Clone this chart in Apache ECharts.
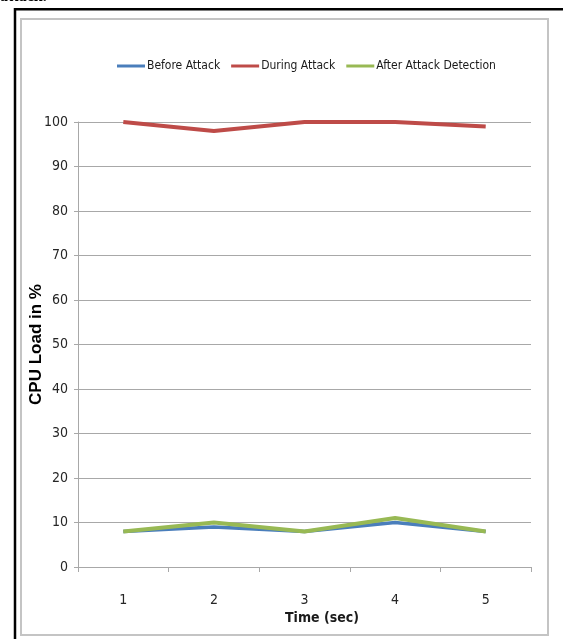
<!DOCTYPE html>
<html>
<head>
<meta charset="utf-8">
<script src="https://cdn.jsdelivr.net/npm/echarts@6/dist/echarts.min.js"></script>
<style>
  html, body { margin: 0; padding: 0; background: #fff; }
  #chart { width: 563px; height: 639px; }
</style>
</head>
<body>
<div id="chart"></div>
<script>
// CPU load over time, before / during / after an attack
const timeLabels = ['1', '2', '3', '4', '5'];
const beforeAttack = [8, 9, 8, 10, 8];
const duringAttack = [100, 98, 100, 100, 99];
const afterDetection = [8, 10, 8, 11, 8];

const seriesNames = ['Before Attack', 'During Attack', 'After Attack Detection'];
const seriesColors = ['#4a7ebb', '#be4b48', '#98b954'];

const narrow = '"Liberation Sans Narrow", "DejaVu Sans Condensed", sans-serif';
const gridColor = '#a8a8a8';

const chart = echarts.init(document.getElementById('chart'));

function lineSeries(name, data, color, width) {
  return {
    name: name,
    type: 'line',
    data: data,
    symbol: 'none',
    lineStyle: { color: color, width: width },
    itemStyle: { color: color },
    emphasis: { disabled: true }
  };
}

chart.setOption({
  animation: false,
  backgroundColor: '#ffffff',
  graphic: [
    // clipped caption line above the figure
    {
      type: 'text', left: 0, top: -11,
      style: { text: 'attack.', font: 'bold 16px "Liberation Serif", serif', fill: '#000' }
    },
    // outer black frame
    {
      type: 'rect',
      shape: { x: 15, y: 9.25, width: 620, height: 700 },
      style: { fill: 'none', stroke: '#000', lineWidth: 2.5 }
    },
    // chart area border
    {
      type: 'rect',
      shape: { x: 21, y: 19, width: 527, height: 616 },
      style: { fill: 'none', stroke: '#c4c4c4', lineWidth: 2 }
    },
    // x axis title
    {
      type: 'text', x: 322, y: 618,
      style: {
        text: 'Time (sec)', font: 'bold 14px ' + narrow, fill: '#1a1a1a',
        align: 'center', verticalAlign: 'middle'
      }
    }
  ],
  legend: {
    data: seriesNames,
    left: 117,
    top: 60,
    padding: 0,
    icon: 'rect',
    itemWidth: 28,
    itemHeight: 3,
    itemGap: 11,
    textStyle: { fontFamily: narrow, fontSize: 12, color: '#1a1a1a', padding: [0, 0, 0, -3] }
  },
  grid: { left: 78, right: 32, top: 122, bottom: 72, containLabel: false },
  xAxis: {
    type: 'category',
    data: timeLabels,
    boundaryGap: true,
    axisLine: { lineStyle: { color: gridColor, width: 1 } },
    axisTick: { show: true, length: 5, lineStyle: { color: gridColor } },
    axisLabel: { fontFamily: narrow, fontSize: 14, color: '#262626', margin: 26 },
    splitLine: { show: false }
  },
  yAxis: {
    type: 'value',
    min: 0,
    max: 100,
    interval: 10,
    name: 'CPU Load in %',
    nameLocation: 'middle',
    nameGap: 33,
    nameMoveOverlap: false,
    nameTextStyle: { fontFamily: '"Liberation Sans", Arial, sans-serif', fontWeight: 'bold', fontSize: 17, color: '#000' },
    axisLine: { show: true, lineStyle: { color: gridColor, width: 1 } },
    axisTick: { show: true, length: 4, lineStyle: { color: gridColor } },
    axisLabel: { fontFamily: narrow, fontSize: 14, color: '#262626', margin: 10 },
    splitLine: { show: true, lineStyle: { color: gridColor, width: 1 } }
  },
  series: [
    lineSeries(seriesNames[0], beforeAttack, seriesColors[0], 3.5),
    lineSeries(seriesNames[1], duringAttack, seriesColors[1], 4),
    lineSeries(seriesNames[2], afterDetection, seriesColors[2], 4)
  ]
});
</script>
</body>
</html>
